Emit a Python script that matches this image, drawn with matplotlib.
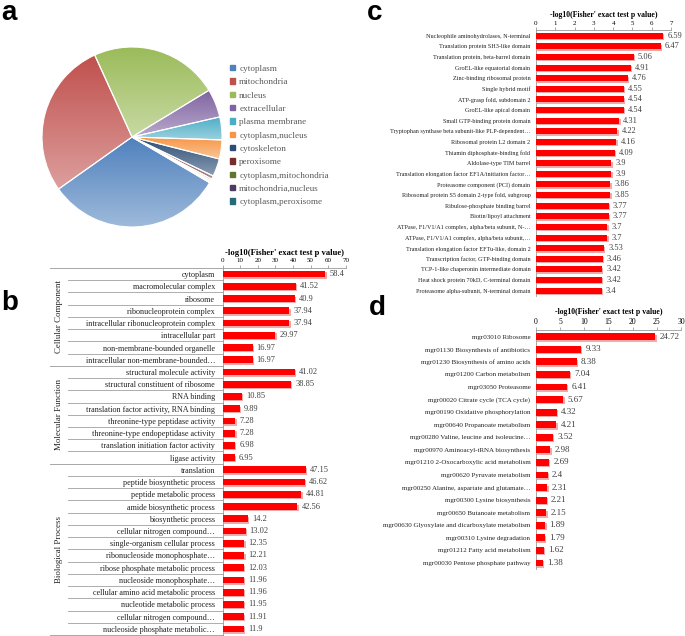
import matplotlib
matplotlib.use('Agg')
import matplotlib.pyplot as plt
import matplotlib.patheffects as pe
from matplotlib.patches import Patch
from matplotlib.colors import LinearSegmentedColormap, to_rgb
import numpy as np

plt.rcParams['font.family'] = 'Liberation Serif'

# ---- a: subcellular location pie
loc_names = ['cytoplasm', 'mitochondria', 'nucleus', 'extracellular', 'plasma membrane',
             'cytoplasm,nucleus', 'cytoskeleton', 'peroxisome', 'cytoplasm,mitochondria',
             'mitochondria,nucleus', 'cytoplasm,peroxisome']
loc_values = [31.7, 28.0, 23.1, 5.1, 4.1, 3.4, 3.2, 0.6, 0.3, 0.25, 0.2]
loc_colors = ['#4F81BD', '#C0504D', '#9BBB59', '#8064A2', '#4BACC6', '#F79646',
              '#2C4D75', '#772C2A', '#5F7530', '#4D3B62', '#276A7C']

# ---- b: GO enrichment
go_terms = ['cytoplasm', 'macromolecular complex', 'ribosome', 'ribonucleoprotein complex',
            'intracellular ribonucleoprotein complex', 'intracellular part',
            'non-membrane-bounded organelle', 'intracellular non-membrane-bounded\u2026',
            'structural molecule activity', 'structural constituent of ribosome', 'RNA binding',
            'translation factor activity, RNA binding', 'threonine-type peptidase activity',
            'threonine-type endopeptidase activity', 'translation initiation factor activity',
            'ligase activity',
            'translation', 'peptide biosynthetic process', 'peptide metabolic process',
            'amide biosynthetic process', 'biosynthetic process', 'cellular nitrogen compound\u2026',
            'single-organism cellular process', 'ribonucleoside monophosphate\u2026',
            'ribose phosphate metabolic process', 'nucleoside monophosphate\u2026',
            'cellular amino acid metabolic process', 'nucleotide metabolic process',
            'cellular nitrogen compound\u2026', 'nucleoside phosphate metabolic\u2026']
go_values = [58.4, 41.52, 40.9, 37.94, 37.94, 29.97, 16.97, 16.97,
             41.02, 38.85, 10.85, 9.89, 7.28, 7.28, 6.98, 6.95,
             47.15, 46.62, 44.81, 42.56, 14.2, 13.02, 12.35, 12.21, 12.03, 11.96, 11.96,
             11.95, 11.91, 11.9]
go_groups = ['Cellular Component', 'Molecular Function', 'Biological Process']
go_group_sizes = [8, 8, 14]

# ---- c: protein domain enrichment
dom_terms = ['Nucleophile aminohydrolases, N-terminal', 'Translation protein SH3-like domain',
             'Translation protein, beta-barrel domain', 'GroEL-like equatorial domain',
             'Zinc-binding ribosomal protein', 'Single hybrid motif', 'ATP-grasp fold, subdomain 2',
             'GroEL-like apical domain', 'Small GTP-binding protein domain',
             'Tryptophan synthase beta subunit-like PLP-dependent\u2026',
             'Ribosomal protein L2 domain 2', 'Thiamin diphosphate-binding fold',
             'Aldolase-type TIM barrel', 'Translation elongation factor EF1A/initiation factor\u2026',
             'Proteasome component (PCI) domain', 'Ribosomal protein S5 domain 2-type fold, subgroup',
             'Ribulose-phosphate binding barrel', 'Biotin/lipoyl attachment',
             'ATPase, F1/V1/A1 complex, alpha/beta subunit, N-\u2026',
             'ATPase, F1/V1/A1 complex, alpha/beta subunit,\u2026',
             'Translation elongation factor EFTu-like, domain 2',
             'Transcription factor, GTP-binding domain', 'TCP-1-like chaperonin intermediate domain',
             'Heat shock protein 70kD, C-terminal domain',
             'Proteasome alpha-subunit, N-terminal domain']
dom_values = [6.59, 6.47, 5.06, 4.91, 4.76, 4.55, 4.54, 4.54, 4.31, 4.22, 4.16, 4.09,
              3.9, 3.9, 3.86, 3.85, 3.77, 3.77, 3.7, 3.7, 3.53, 3.46, 3.42, 3.42, 3.4]

# ---- d: KEGG pathway enrichment
kegg_terms = ['mgr03010 Ribosome', 'mgr01130 Biosynthesis of antibiotics',
              'mgr01230 Biosynthesis of amino acids', 'mgr01200 Carbon metabolism',
              'mgr03050 Proteasome', 'mgr00020 Citrate cycle (TCA cycle)',
              'mgr00190 Oxidative phosphorylation', 'mgr00640 Propanoate metabolism',
              'mgr00280 Valine, leucine and isoleucine\u2026', 'mgr00970 Aminoacyl-tRNA biosynthesis',
              'mgr01210 2-Oxocarboxylic acid metabolism', 'mgr00620 Pyruvate metabolism',
              'mgr00250 Alanine, aspartate and glutamate\u2026', 'mgr00300 Lysine biosynthesis',
              'mgr00650 Butanoate metabolism', 'mgr00630 Glyoxylate and dicarboxylate metabolism',
              'mgr00310 Lysine degradation', 'mgr01212 Fatty acid metabolism',
              'mgr00030 Pentose phosphate pathway']
kegg_values = [24.72, 9.33, 8.38, 7.04, 6.41, 5.67, 4.32, 4.21, 3.52, 2.98, 2.69, 2.4,
               2.31, 2.21, 2.15, 1.89, 1.79, 1.62, 1.38]

xtitle = "-log10(Fisher' exact test p value)"

W, H = 685, 636
fig = plt.figure(figsize=(W / 100, H / 100), dpi=100)


def box(x0, y0, x1, y1):
    # pixel box (top-left origin) -> figure fraction
    return [x0 / W, 1 - y1 / H, (x1 - x0) / W, (y1 - y0) / H]


# ================= a
ax = fig.add_axes(box(42, 47, 222, 227))
wedges, _ = ax.pie(loc_values, startangle=-30.5, counterclock=False,
                   wedgeprops=dict(edgecolor='white', linewidth=0.8))
grad = np.linspace(0, 1, 256).reshape(-1, 1)
for w, c in zip(wedges, loc_colors):
    base = np.array(to_rgb(c))
    light = base + (1 - base) * 0.45
    cm = LinearSegmentedColormap.from_list('g', [base, light])
    ext = w.get_path().get_extents()
    im = ax.imshow(grad, cmap=cm, extent=[ext.x0, ext.x1, ext.y0, ext.y1],
                   origin='upper', aspect='auto', zorder=0.5)
    im.set_clip_path(w)
    w.set_facecolor('none')
    w.set_zorder(1)
ax.set_xlim(-1, 1)
ax.set_ylim(-1, 1)
ax.axis('off')

handles = [Patch(color=c) for c in loc_colors]
fig.legend(handles, loc_names, loc='upper left', bbox_to_anchor=(230 / W, 1 - 65 / H),
           frameon=False, fontsize=6.6, handlelength=0.5, handleheight=0.5,
           handletextpad=0.5, labelspacing=0.58, borderaxespad=0, borderpad=0,
           labelcolor='#595959')


def bar_panel(ax, terms, values, xmax, step, bar_h, label_fs, val_fs, tick_fs, title_fs, label_pad):
    y = np.arange(len(terms))
    bars = ax.barh(y, values, height=bar_h, color='#FF0000', zorder=3)
    for b in bars:
        b.set_path_effects([pe.SimplePatchShadow(offset=(1.0, -1.0), shadow_rgbFace='#F7A8A8', alpha=1),
                            pe.Normal()])
    ax.bar_label(bars, labels=[f'{v:g}' for v in values], padding=3,
                 fontsize=val_fs, color='#404040')
    ax.set_xlim(0, xmax)
    ax.set_ylim(len(terms) - 0.5, -0.5)
    ax.set_xticks(np.arange(0, xmax + step / 2, step))
    ax.xaxis.tick_top()
    ax.xaxis.set_label_position('top')
    ax.set_xlabel(xtitle, fontsize=title_fs, fontweight='bold', labelpad=2.5)
    ax.tick_params(axis='x', labelsize=tick_fs, length=2, width=0.5, color='#888888', pad=1.5)
    ax.set_yticks(y)
    ax.set_yticklabels(terms, fontsize=label_fs, color='#222222')
    ax.tick_params(axis='y', length=0, pad=label_pad)
    for s in ['right', 'bottom']:
        ax.spines[s].set_visible(False)
    for s in ['top', 'left']:
        ax.spines[s].set_color('#999999')
        ax.spines[s].set_linewidth(0.6)


# ================= b
ax = fig.add_axes(box(222.7, 268, 345.7, 635))
bar_panel(ax, go_terms, go_values, 70, 10, 0.55, 5.9, 6, 5, 6.2, 5.5)
tr = ax.get_yaxis_transform()
left_row = (68 - 222.7) / 123.0
left_grp = (50 - 222.7) / 123.0
ax.plot([left_grp, 0], [-0.5, -0.5], transform=tr, clip_on=False, color='#999999', lw=0.6)
start = 0
for name, n in zip(go_groups, go_group_sizes):
    for i in range(start, start + n - 1):
        ax.plot([left_row, 0], [i + 0.5, i + 0.5], transform=tr, clip_on=False,
                color='#A0A0A0', lw=0.6)
    ax.plot([left_grp, 0], [start + n - 0.5, start + n - 0.5], transform=tr, clip_on=False,
            color='#999999', lw=0.6)
    ax.text((left_grp + left_row) / 2, start + (n - 1) / 2, name, transform=tr, rotation=90,
            ha='center', va='center', fontsize=6.4, color='#222222')
    start += n

# ================= c
ax = fig.add_axes(box(536, 30.4, 671, 296))
bar_panel(ax, dom_terms, dom_values, 7, 1, 0.57, 4.4, 6, 5, 5.6, 4)

# ================= d
ax = fig.add_axes(box(536, 330.4, 681, 569.3))
bar_panel(ax, kegg_terms, kegg_values, 30, 5, 0.55, 5, 6.5, 5.5, 5.6, 4)

# panel letters
for lab, x, y in [('a', 1, 0), ('b', 1, 290), ('c', 367, 0), ('d', 369, 295)]:
    fig.text(x / W, 1 - y / H, lab, fontsize=20, fontweight='bold',
             family='Liberation Sans', va='top', ha='left')

fig.savefig('out.png', dpi=100)
